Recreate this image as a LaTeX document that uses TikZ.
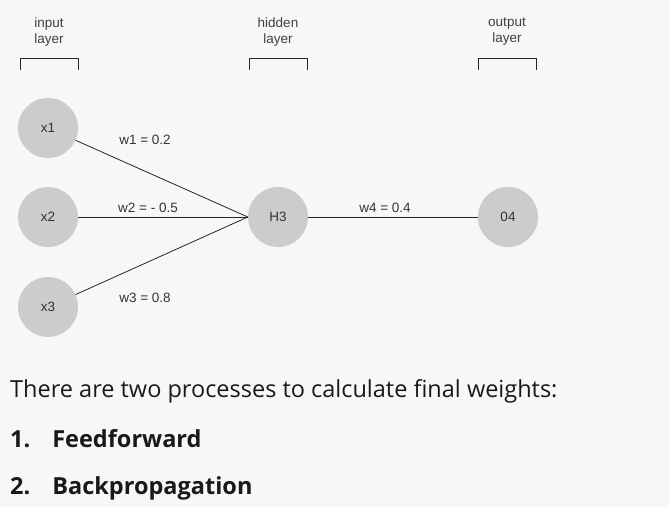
\documentclass[tikz,border=0pt]{standalone}
\usepackage{fontspec}
\setmainfont{Open Sans}
\newfontfamily\diag{Liberation Sans}
\begin{document}
\begin{tikzpicture}[x=1pt,y=-1pt,
  neuron/.style={circle,fill=black!20,minimum size=60pt,inner sep=0pt,font=\diag\fontsize{13.5}{15}\selectfont,text=black!80},
  wlabel/.style={font=\diag\fontsize{13.5}{15}\selectfont,text=black!80},
  lbl/.style={font=\diag\fontsize{13.5}{16}\selectfont,text=black!75,align=center},
  conn/.style={draw=black!85,line width=0.8pt},
  brk/.style={draw=black!85,line width=0.8pt}]
\fill[black!3] (0,0) rectangle (670,507);
\useasboundingbox (0,0) rectangle (670,507);
\node[neuron] (x1) at (48,128) {x1};
\node[neuron] (x2) at (48,217) {x2};
\node[neuron] (x3) at (48,307) {x3};
\node[neuron] (h3) at (278,217) {H3};
\node[neuron] (o4) at (508,217) {04};
\draw[conn] (x1) -- (h3.west);
\draw[conn] (x2) -- (h3.west);
\draw[conn] (x3) -- (h3.west);
\draw[conn] (h3) -- (o4);
\node[wlabel] (l1) at (145,140) {w1 = 0.2};
\node[wlabel] (l2) at (148,208) {w2 = - 0.5};
\node[wlabel] (l3) at (145,298) {w3 = 0.8};
\node[wlabel] (l4) at (385,208) {w4 = 0.4};
\node[lbl] (tin) at (49,32) {input\\layer};
\node[lbl] (thid) at (278,32) {hidden\\layer};
\node[lbl] (tout) at (507,32) {output\\layer};
\draw[brk] (20,70) -- (20,58) -- (78,58) -- (78,70);
\draw[brk] (249,70) -- (249,58) -- (307,58) -- (307,70);
\draw[brk] (478,70) -- (478,58) -- (536,58) -- (536,70);
\node[anchor=west,inner sep=0pt,font=\fontsize{23.5}{26}\selectfont,text=black!90] (t1) at (10,391) {There are two processes to calculate final weights:};
\node[anchor=west,inner sep=0pt,font=\bfseries\fontsize{23.5}{26}\selectfont,text=black!90] (t2) at (10,439) {1.\hspace{22pt}Feedforward};
\node[anchor=west,inner sep=0pt,font=\bfseries\fontsize{23.5}{26}\selectfont,text=black!90] (t3) at (10,488) {2.\hspace{22pt}Backpropagation};
\end{tikzpicture}
\end{document}
